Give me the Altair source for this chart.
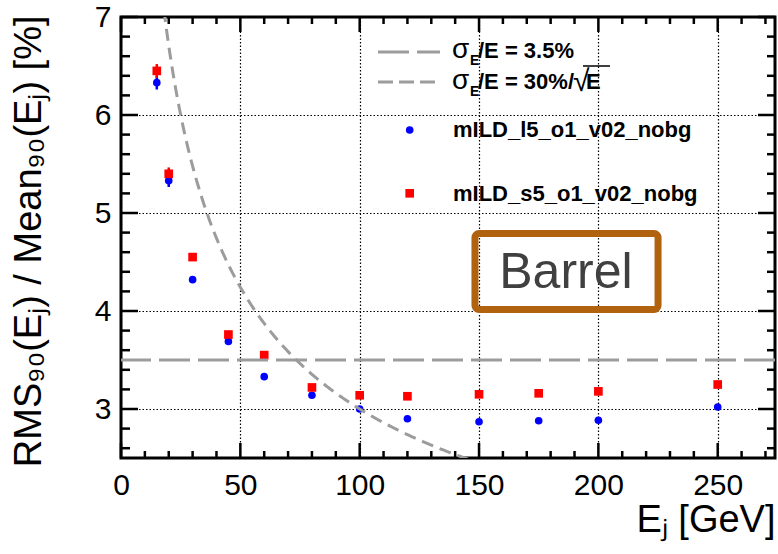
import altair as alt
import numpy as np
import pandas as pd

# Jet energy resolution vs jet energy, barrel region
energy = [15, 20, 30, 45, 60, 80, 100, 120, 150, 175, 200, 250]
res_l5 = [6.33, 5.33, 4.32, 3.69, 3.33, 3.14, 3.00, 2.90, 2.87, 2.88, 2.885, 3.02]
err_l5 = [0.07, 0.065, 0.03, 0.02, 0.015, 0.015, 0.015, 0.015, 0.015, 0.015, 0.015, 0.015]
res_s5 = [6.45, 5.40, 4.55, 3.76, 3.55, 3.22, 3.14, 3.13, 3.15, 3.16, 3.18, 3.25]
err_s5 = [0.07, 0.065, 0.03, 0.02, 0.015, 0.015, 0.015, 0.015, 0.015, 0.015, 0.015, 0.015]
series = ["mILD_l5_o1_v02_nobg", "mILD_s5_o1_v02_nobg"]

# Reference resolutions: constant term and stochastic term (in %)
const_term = 3.5
stoch_term = 30.0

x_ticks_major = [0, 50, 100, 150, 200, 250]
x_ticks_minor = [v for v in range(0, 271, 10) if v % 50 != 0]
y_ticks_major = [3, 4, 5, 6, 7]
y_ticks_minor = [2.6, 2.8, 3.2, 3.4, 3.6, 3.8, 4.2, 4.4, 4.6, 4.8,
                 5.2, 5.4, 5.6, 5.8, 6.2, 6.4, 6.6, 6.8]

W, H = 654, 441
FONT = "Liberation Sans"
GRAY = "#9c9c9c"

points = pd.DataFrame({
    "E": energy * 2,
    "res": res_l5 + res_s5,
    "err": err_l5 + err_s5,
    "series": [series[0]] * len(energy) + [series[1]] * len(energy),
})
points["lo"] = points["res"] - points["err"]
points["hi"] = points["res"] + points["err"]

e_curve = np.arange(18.0, 146.0, 0.5)
curve = pd.DataFrame({"E": e_curve, "res": stoch_term / np.sqrt(e_curve)})

xs = alt.Scale(domain=[0, 274], nice=False, zero=False)
ys = alt.Scale(domain=[2.5, 7], nice=False, zero=False)
col = alt.Color("series:N", scale=alt.Scale(domain=series, range=["#0000ff", "#ff0000"]), legend=None)
shp = alt.Shape("series:N", scale=alt.Scale(domain=series, range=["circle", "square"]), legend=None)
siz = alt.Size("series:N", scale=alt.Scale(domain=series, range=[58, 75]), legend=None)

x_axis = alt.Axis(
    values=x_ticks_major, format="d", title="Eⱼ [GeV]", labelFontSize=30, labelPadding=12,
    labelFlush=False, ticks=False, tickSize=0, domain=False,
    grid=True, gridDash=[1.5, 2], gridColor="black", gridWidth=1.2, gridOpacity=1,
    titleFontSize=38, titleFontWeight="normal", titleAnchor="end", titleAlign="right",
    titleBaseline="alphabetic", titleX=W, titleY=73,
)
y_axis = alt.Axis(
    values=y_ticks_major, format="d", title="RMS₉₀(Eⱼ) / Mean₉₀(Eⱼ) [%]", labelFontSize=30,
    labelPadding=10, labelFlush=False, ticks=False, tickSize=0, domain=False,
    grid=True, gridDash=[1.5, 2], gridColor="black", gridWidth=1.2, gridOpacity=1,
    titleFontSize=38, titleFontWeight="normal", titleAnchor="end", titleAlign="right",
    titleAngle=270, titleBaseline="alphabetic", titleX=-81, titleY=-2,
)

errors = alt.Chart(points).mark_rule(strokeWidth=2.5).encode(
    x=alt.X("E:Q", scale=xs, axis=x_axis),
    y=alt.Y("lo:Q", scale=ys, axis=y_axis),
    y2="hi:Q",
    color=col,
)
markers = alt.Chart(points).mark_point(filled=True, opacity=1).encode(
    x=alt.X("E:Q", scale=xs), y=alt.Y("res:Q", scale=ys), color=col, shape=shp, size=siz,
)

const_line = alt.Chart(pd.DataFrame({"res": [const_term]})).mark_rule(
    color=GRAY, strokeWidth=3, strokeDash=[31, 8]
).encode(y=alt.Y("res:Q", scale=ys))

stoch_line = alt.Chart(curve).mark_line(
    color=GRAY, strokeWidth=3, strokeDash=[12, 7], clip=True
).encode(x=alt.X("E:Q", scale=xs), y=alt.Y("res:Q", scale=ys))


# Inward-pointing ticks on all four sides
def xticks(vals, edge, length):
    end = edge - length if edge > 0 else edge + length
    return alt.Chart(pd.DataFrame({"v": vals})).mark_rule(color="black", strokeWidth=2.5).encode(
        x=alt.X("v:Q", scale=xs), y=alt.value(edge), y2=alt.value(end))


def yticks(vals, edge, length):
    end = edge - length if edge > 0 else edge + length
    return alt.Chart(pd.DataFrame({"v": vals})).mark_rule(color="black", strokeWidth=2.5).encode(
        y=alt.Y("v:Q", scale=ys), x=alt.value(edge), x2=alt.value(end))


ticks = [
    xticks(x_ticks_major, H, 15), xticks(x_ticks_minor, H, 7),
    xticks(x_ticks_major, 0, 15), xticks(x_ticks_minor, 0, 7),
    yticks(y_ticks_major, 0, 17), yticks(y_ticks_minor, 0, 9),
    yticks(y_ticks_major, W, 17), yticks(y_ticks_minor, W, 8),
]

# "Barrel" tag
tag = pd.DataFrame({"x1": [148.3], "x2": [225.0], "y1": [4.015], "y2": [4.79],
                    "xc": [186.4], "yc": [4.39], "t": ["Barrel"]})
tag_box = alt.Chart(tag).mark_rect(fillOpacity=0, stroke="#b0620e", strokeWidth=7, cornerRadius=4).encode(
    x=alt.X("x1:Q", scale=xs), x2="x2:Q", y=alt.Y("y1:Q", scale=ys), y2="y2:Q")
tag_text = alt.Chart(tag).mark_text(font=FONT, fontSize=50, color="#404040", baseline="middle", align="center").encode(
    x=alt.X("xc:Q", scale=xs), y=alt.Y("yc:Q", scale=ys), text="t:N")

# Legend
one = pd.DataFrame({"k": [0]})


def txt(s, x, y, size, bold=True, color="black"):
    return alt.Chart(one).mark_text(
        font=FONT, fontSize=size, fontWeight="bold" if bold else "normal", align="left",
        baseline="alphabetic", color=color, text=s,
    ).encode(x=alt.value(x), y=alt.value(y))


leg_const = alt.Chart(one).mark_rule(color=GRAY, strokeWidth=3, strokeDash=[31, 8]).encode(
    x=alt.value(257), x2=alt.value(319), y=alt.value(35))
leg_stoch = alt.Chart(one).mark_rule(color=GRAY, strokeWidth=3, strokeDash=[15, 6]).encode(
    x=alt.value(257), x2=alt.value(314), y=alt.value(65))
leg_over = alt.Chart(one).mark_rule(color="black", strokeWidth=1.5).encode(
    x=alt.value(462), x2=alt.value(489), y=alt.value(49))
leg_items = [
    leg_const, leg_stoch,
    txt("σ", 331, 41, 28, bold=False), txt("E", 349, 48, 14), txt("/E = 3.5%", 357, 41, 22),
    txt("σ", 331, 72, 28, bold=False), txt("E", 349, 79, 14), txt("/E = 30%/", 357, 72, 22),
    txt("√", 452, 74, 30, bold=False), txt("E", 465, 72, 22), leg_over,
]
leg_pts = pd.DataFrame({"series": series, "px": [288.7, 288.7], "py": [113, 176.3]})
leg_marks = alt.Chart(leg_pts).mark_point(filled=True, opacity=1).encode(
    x=alt.X("px:Q", scale=None), y=alt.Y("py:Q", scale=None), color=col, shape=shp, size=siz)
leg_items += [leg_marks, txt(series[0], 332, 120, 22), txt(series[1], 332, 184, 22)]

chart = alt.layer(
    errors, markers, const_line, stoch_line, *ticks, tag_box, tag_text, *leg_items
).properties(
    width=W, height=H,
    padding={"left": 121, "top": 17, "right": 3, "bottom": 96},
    autosize=alt.AutoSizeParams(type="none"),
).configure_view(
    stroke="black", strokeWidth=3
).configure_axis(
    labelFont=FONT, titleFont=FONT, labelColor="black", titleColor="black"
)

chart.save("out.html", embed_options={"renderer": "svg", "actions": False})
